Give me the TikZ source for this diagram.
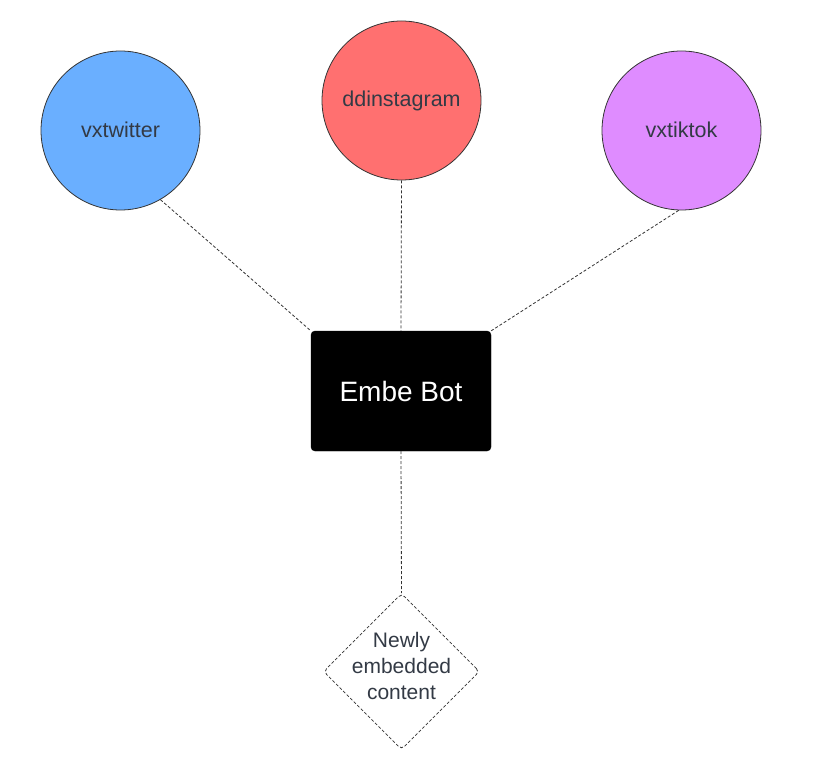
\documentclass[tikz,border=0pt]{standalone}
\usepackage{fontspec}
\setmainfont{Liberation Sans}
\usetikzlibrary{shapes.geometric}
\definecolor{txt}{HTML}{333A45}
\definecolor{cblue}{HTML}{6AAFFF}
\definecolor{cred}{HTML}{FF7070}
\definecolor{cpurple}{HTML}{DF8CFF}
\definecolor{edge}{HTML}{333333}
\tikzset{
  site/.style={circle, draw=edge, line width=0.8pt, minimum size=159pt, inner sep=0pt,
    text=txt, font=\fontsize{21.5}{25}\selectfont},
  botbox/.style={rectangle, rounded corners=4pt, fill=black, draw=black, minimum width=180pt,
    minimum height=120pt, text=white, font=\fontsize{28}{32}\selectfont},
  outdiamond/.style={diamond, draw=edge, dashed, dash pattern=on 3pt off 2pt, line width=0.8pt,
    rounded corners=4pt, minimum width=156pt, minimum height=156pt, inner sep=0pt},
  outtext/.style={text=txt, align=center, font=\fontsize{21}{26}\selectfont},
  link/.style={draw=edge, line width=0.8pt, dash pattern=on 3pt off 2pt}
}
\begin{document}
\begin{tikzpicture}[x=1pt, y=-1pt]
\useasboundingbox (0,0) rectangle (839,781);
\node[site, fill=cblue] (vx) at (120.5,130.5) {\raisebox{2pt}{vxtwitter}};
\node[site, fill=cred] (dd) at (401.5,100.5) {ddinstagram};
\node[site, fill=cpurple] (tt) at (681.5,130.5) {\raisebox{2pt}{vxtiktok}};
\node[botbox] (bot) at (401,391) {Embe Bot};
\node[outdiamond, label={[outtext, yshift=6pt]center:{Newly\\embedded\\content}}] (out) at (401.5,671.5) {};
\draw[link] (vx.-60) -- (bot.north west);
\draw[link] (dd.south) -- (bot.north);
\draw[link] (tt.-92) -- (bot.north east);
\draw[link] (bot.south) -- (out.north);
\end{tikzpicture}
\end{document}
